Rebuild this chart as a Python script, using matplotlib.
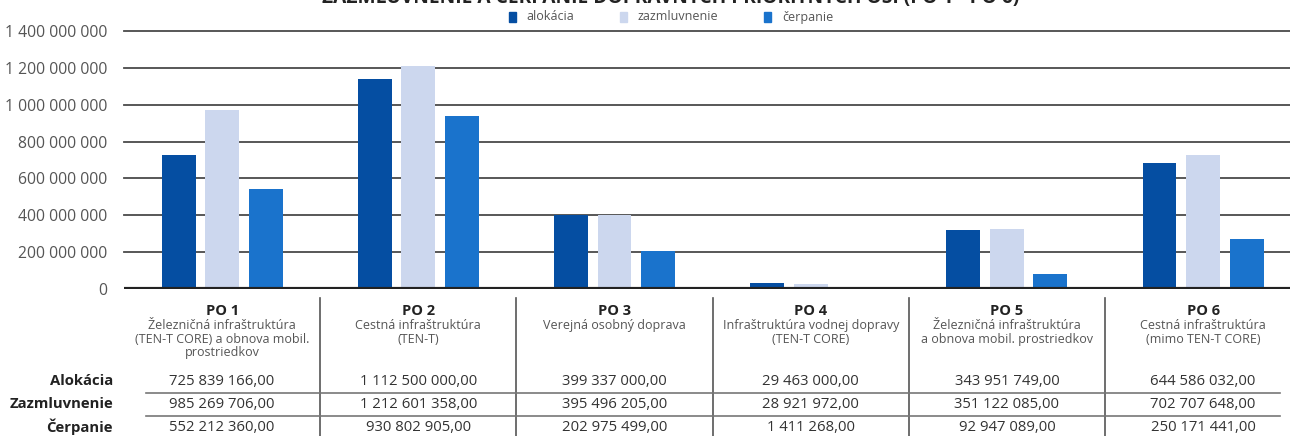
import matplotlib.pyplot as plt
import matplotlib.transforms as mtransforms
from matplotlib.patches import Rectangle
from matplotlib.lines import Line2D

# ---------------- data ----------------
categories = ["PO 1", "PO 2", "PO 3", "PO 4", "PO 5", "PO 6"]
subtitles = ["Železničná infraštruktúra\n(TEN-T CORE) a obnova mobil.\nprostriedkov",
             "Cestná infraštruktúra\n(TEN-T)",
             "Verejná osobný doprava",
             "Infraštruktúra vodnej dopravy\n(TEN-T CORE)",
             "Železničná infraštruktúra\na obnova mobil. prostriedkov",
             "Cestná infraštruktúra\n(mimo TEN-T CORE)"]

# bar heights as drawn in the chart
alokacia = [727e6, 1142e6, 401e6, 34e6, 320e6, 683e6]
zazmluvnenie = [970e6, 1212e6, 401e6, 28e6, 326e6, 726e6]
cerpanie = [544e6, 937e6, 207e6, 1.4e6, 83e6, 272e6]

series_names = ["alokácia", "zazmluvnenie", "čerpanie"]
row_labels = ["Alokácia", "Zazmluvnenie", "Čerpanie"]

# table values
tab_alokacia = ["725 839 166,00", "1 112 500 000,00", "399 337 000,00",
                "29 463 000,00", "343 951 749,00", "644 586 032,00"]
tab_zazmluvnenie = ["985 269 706,00", "1 212 601 358,00", "395 496 205,00",
                    "28 921 972,00", "351 122 085,00", "702 707 648,00"]
tab_cerpanie = ["552 212 360,00", "930 802 905,00", "202 975 499,00",
                "1 411 268,00", "92 947 089,00", "250 171 441,00"]

title = "ZAZMLUVNENIE A ČERPANIE DOPRAVNÝCH PRIORITNÝCH OSÍ (PO 1 - PO 6)"

yticks = [0, 200e6, 400e6, 600e6, 800e6, 1000e6, 1200e6, 1400e6]

colors = ["#054EA2", "#CCD7EE", "#1A73CC"]

plt.rcParams['font.family'] = ['Open Sans', 'DejaVu Sans']

W, H = 1290, 436
fig = plt.figure(figsize=(W / 100, H / 100), dpi=100)

def fy(py):
    return 1 - py / H

# axes: left 124px .. right 1290px, zero at 289px, top at 25px
ax = fig.add_axes([124 / W, fy(289), (W - 124) / W, (289 - 25) / H])
ax.set_xlim(-0.5, 5.443)
ax.set_ylim(0, 264 / 258 * 1400e6)

x = range(len(categories))
offs = [-0.222, 0.0, 0.222]
for vals, off, c in zip([alokacia, zazmluvnenie, cerpanie], offs, colors):
    ax.bar([i + off for i in x], vals, width=0.173, color=c, zorder=3)

ax.set_yticks(yticks)
ax.set_yticklabels(["{:,}".format(int(v)).replace(",", " ") for v in yticks],
                   fontsize=11.3, color="#555555")
ax.tick_params(axis="y", length=0, pad=12)
ax.tick_params(axis="x", length=0, labelbottom=False)
for v in yticks[1:]:
    ax.axhline(v, color="#4a4a4a", lw=1.3, zorder=1, clip_on=False)
ax.axhline(0, color="#222222", lw=3, zorder=4)
for s in ax.spines.values():
    s.set_visible(False)

# title (cut at the top edge as in the source)
fig.text(0.52, fy(3), title, ha="center", va="baseline", fontsize=13.8,
         fontweight="bold", color="#222222")

# legend
leg_sq = [509, 620, 764]
leg_tx = [526, 638, 782]
for name, c, sx, tx in zip(series_names, colors, leg_sq, leg_tx):
    fig.patches.append(Rectangle((sx / W, fy(22)), 7 / W, 10 / H, color=c,
                                 transform=fig.transFigure, figure=fig))
    fig.text(tx / W, fy(17), name, ha="left", va="center", fontsize=9,
             color="#555555")

# table under the chart
tr = mtransforms.blended_transform_factory(ax.transData, fig.transFigure)
for i, (cat, sub) in enumerate(zip(categories, subtitles)):
    fig.text(i, fy(311), cat, transform=tr, ha="center", va="center",
             fontsize=10.5, fontweight="bold", color="#222222")
    fig.text(i, fy(319), sub, transform=tr, ha="center", va="top",
             fontsize=9, color="#555555", linespacing=1.05)
    for row_vals, py in zip([tab_alokacia, tab_zazmluvnenie, tab_cerpanie],
                            [381, 404, 427]):
        fig.text(i, fy(py), row_vals[i], transform=tr, ha="center",
                 va="center", fontsize=10.7, color="#333333")
    if i > 0:
        fig.lines.append(Line2D([i - 0.5, i - 0.5], [fy(298), 0], transform=tr,
                                color="#555555", lw=1.2, figure=fig))

for lbl, py in zip(row_labels, [381, 404, 427]):
    fig.text(113 / W, fy(py), lbl, ha="right", va="center", fontsize=10.7,
             fontweight="bold", color="#222222")

for py in [393, 416]:
    fig.lines.append(Line2D([146 / W, 1280 / W], [fy(py), fy(py)],
                            transform=fig.transFigure, color="#777777",
                            lw=1.2, figure=fig))

fig.savefig("out.png", dpi=100)
